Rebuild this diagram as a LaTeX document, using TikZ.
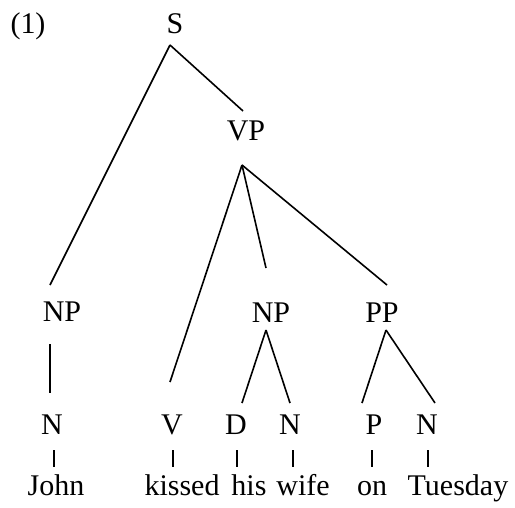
\documentclass[tikz,border=0pt]{standalone}
\usepackage{fontspec}
\setmainfont{Liberation Serif}
\begin{document}
\begin{tikzpicture}[x=1pt,y=-1pt,
  lab/.style={anchor=base,inner sep=0pt,font=\fontsize{30}{36}\selectfont},
  branch/.style={line width=1.6pt},
  tick/.style={line width=1.4pt}]
\useasboundingbox (0,0) rectangle (515,507);

% example number and category labels
\node[lab] (ex)  at (28,33)  {(1)};
\node[lab] (S)   at (175,33) {S};
\node[lab] (VP)  at (246,140) {VP};
\node[lab] (NPs) at (62,321) {NP};
\node[lab] (NPo) at (271,322) {NP};
\node[lab] (PP)  at (382,322) {PP};
\node[lab] (N1)  at (52,434) {N};
\node[lab] (V)   at (172,434) {V};
\node[lab] (D)   at (236,434) {D};
\node[lab] (N2)  at (290,434) {N};
\node[lab] (P)   at (374,434) {P};
\node[lab] (N3)  at (427,434) {N};

% terminal words
\node[lab] (w1) at (56,495)  {John};
\node[lab] (w2) at (182,495) {kissed};
\node[lab] (w3) at (249,495) {his};
\node[lab] (w4) at (303,495) {wife};
\node[lab] (w5) at (372,495) {on};
\node[lab] (w6) at (458,495) {Tuesday};

% attachment points of the branches
\coordinate (S-dn)   at (170,45);
\coordinate (VP-up)  at (243,111);
\coordinate (VP-dn)  at (242,165);
\coordinate (NPs-up) at (50,285);
\coordinate (NPs-dn) at (50,344);
\coordinate (N1-up)  at (50,393);
\coordinate (V-up)   at (170,382);
\coordinate (NPo-up) at (266,268);
\coordinate (NPo-dn) at (266,330);
\coordinate (PP-up)  at (387,285);
\coordinate (PP-dn)  at (386,330);
\coordinate (D-up)   at (242,403);
\coordinate (N2-up)  at (290,403);
\coordinate (P-up)   at (362,403);
\coordinate (N3-up)  at (435,403);

% branches
\draw[branch] (S-dn) -- (VP-up);
\draw[branch] (S-dn) -- (NPs-up);
\draw[branch] (VP-dn) -- (V-up);
\draw[branch] (VP-dn) -- (NPo-up);
\draw[branch] (VP-dn) -- (PP-up);
\draw[branch] (NPs-dn) -- (N1-up);
\draw[branch] (NPo-dn) -- (D-up);
\draw[branch] (NPo-dn) -- (N2-up);
\draw[branch] (PP-dn) -- (P-up);
\draw[branch] (PP-dn) -- (N3-up);

% short ticks from categories to words
\foreach \x/\n in {54/1,173/2,237/3,293/4,372/5,428/6}
  \draw[tick] (\x,450) coordinate (t\n a) -- (\x,467) coordinate (t\n b);
\end{tikzpicture}
\end{document}
